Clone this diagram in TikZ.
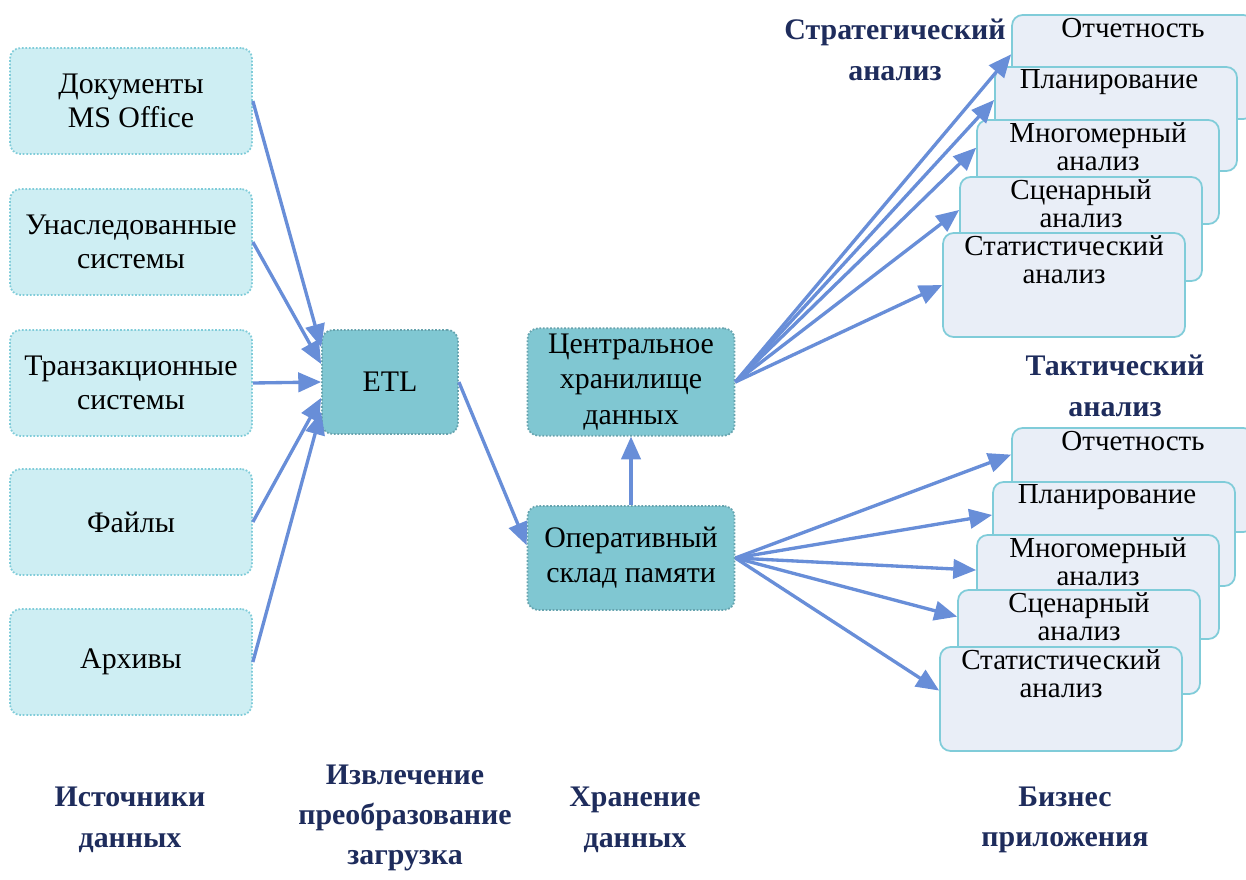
\documentclass[tikz,border=0pt]{standalone}
\usepackage{fontspec}
\setmainfont{Liberation Serif}
\usepackage{xcolor}
\usetikzlibrary{arrows.meta,calc}

\definecolor{strelka}{RGB}{104,142,216}
\definecolor{istok}{RGB}{206,238,243}
\definecolor{ramka}{RGB}{128,204,217}
\definecolor{yadro}{RGB}{128,199,210}
\definecolor{prilozh}{RGB}{233,238,247}
\definecolor{podpis}{RGB}{30,44,92}

\tikzset{
  istochnik/.style={draw=ramka, densely dotted, line width=1pt, fill=istok, rounded corners=6pt,
    minimum width=4.84cm, minimum height=2.12cm, align=center, font=\fontsize{17}{19}\selectfont},
  yadrobox/.style={draw=ramka!80!black, densely dotted, line width=1pt, fill=yadro, rounded corners=6pt,
    minimum height=2.08cm, align=center, font=\fontsize{17}{20}\selectfont},
  prilbox/.style={draw=ramka, line width=1pt, fill=prilozh, rounded corners=6pt,
    minimum width=4.84cm, minimum height=2.08cm},
  priltext/.style={anchor=north, align=center, inner sep=1pt, font=\fontsize{16.5}{15.5}\selectfont},
  zagolovok/.style={align=center, text=podpis, font=\bfseries\fontsize{17}{23}\selectfont},
  svyaz/.style={draw=strelka, line width=1.9pt, -{Triangle[length=13pt, width=11pt]}}
}

\begin{document}
\begin{tikzpicture}[x=0.02cm, y=-0.02cm]
    \useasboundingbox (0,0) rectangle (1246,879);

    % Источники данных
    \node[istochnik] (doc) at (131,101) {Документы\\MS Office};
    \node[istochnik] (nasl) at (131,242) {Унаследованные\\системы};
    \node[istochnik] (tranz) at (131,383) {Транзакционные\\системы};
    \node[istochnik] (fajl) at (131,522) {Файлы};
    \node[istochnik] (arh) at (131,662) {Архивы};

    % ETL и хранилища
    \node[yadrobox, minimum width=2.72cm] (etl) at (390,382) {ETL};
    \node[yadrobox, minimum width=4.14cm] (centr) at (631,382) {Центральное\\хранилище\\данных};
    \node[yadrobox, minimum width=4.14cm] (oper) at (631,558) {Оперативный\\склад памяти};

    % Стратегический анализ
    \node[prilbox] (s1) at (1133,67) {};
    \node[priltext] (s1t) at ([yshift=-1pt]s1.north) {Отчетность};
    \node[prilbox] (s2) at (1116,119) {};
    \node[priltext] (s2t) at ([xshift=-4pt, yshift=-1pt]s2.north) {Планирование};
    \node[prilbox] (s3) at (1098,172) {};
    \node[priltext] (s3t) at ([yshift=-1pt]s3.north) {Многомерный\\анализ};
    \node[prilbox] (s4) at (1081,229) {};
    \node[priltext] (s4t) at ([yshift=-1pt]s4.north) {Сценарный\\анализ};
    \node[prilbox] (s5) at (1064,285) {};
    \node[priltext] (s5t) at ([yshift=-1pt]s5.north) {Статистический\\анализ};

    % Тактический анализ
    \node[prilbox] (t1) at (1133,480) {};
    \node[priltext] (t1t) at ([yshift=-1pt]t1.north) {Отчетность};
    \node[prilbox] (t2) at (1114,534) {};
    \node[priltext] (t2t) at ([xshift=-4pt, yshift=-1pt]t2.north) {Планирование};
    \node[prilbox] (t3) at (1098,587) {};
    \node[priltext] (t3t) at ([yshift=-1pt]t3.north) {Многомерный\\анализ};
    \node[prilbox] (t4) at (1079,642) {};
    \node[priltext] (t4t) at ([yshift=-1pt]t4.north) {Сценарный\\анализ};
    \node[prilbox] (t5) at (1061,699) {};
    \node[priltext] (t5t) at ([yshift=-1pt]t5.north) {Статистический\\анализ};

    % Подписи
    \node[zagolovok] (strat) at (895,50) {Стратегический\\анализ};
    \node[zagolovok] (takt) at (1115,386) {Тактический\\анализ};
    \node[zagolovok] (ist) at (130,820) {Источники\\данных};
    \node[zagolovok] (izvl) at (405,818) {Извлечение\\преобразование\\загрузка};
    \node[zagolovok] (hran) at (635,820) {Хранение\\данных};
    \node[zagolovok] (biz) at (1065,820) {Бизнес\\приложения};

    % Стрелки к ETL
    \draw[svyaz] (doc.east) -- ($(etl.north west)!0.17!(etl.south west)$);
    \draw[svyaz] (nasl.east) -- ($(etl.north west)!0.33!(etl.south west)$);
    \draw[svyaz] (tranz.east) -- (etl.west);
    \draw[svyaz] (fajl.east) -- ($(etl.north west)!0.65!(etl.south west)$);
    \draw[svyaz] (arh.east) -- ($(etl.north west)!0.78!(etl.south west)$);

    % ETL -> склад -> хранилище
    \draw[svyaz] (etl.east) -- ($(oper.north west)!0.38!(oper.south west)$);
    \draw[svyaz] (oper.north) -- (centr.south);

    % Стрелки к приложениям
    \draw[svyaz] (centr.east) -- ($(s1.north west)!0.38!(s1.south west)$);
    \draw[svyaz] (centr.east) -- ($(s2.north west)!0.32!(s2.south west)$);
    \draw[svyaz] (centr.east) -- ($(s3.north west)!0.27!(s3.south west)$);
    \draw[svyaz] (centr.east) -- ($(s4.north west)!0.32!(s4.south west)$);
    \draw[svyaz] (centr.east) -- (s5.west);
    \draw[svyaz] (oper.east) -- ($(t1.north west)!0.26!(t1.south west)$);
    \draw[svyaz] (oper.east) -- ($(t2.north west)!0.32!(t2.south west)$);
    \draw[svyaz] (oper.east) -- ($(t3.north west)!0.34!(t3.south west)$);
    \draw[svyaz] (oper.east) -- ($(t4.north west)!0.26!(t4.south west)$);
    \draw[svyaz] (oper.east) -- ($(t5.north west)!0.42!(t5.south west)$);
\end{tikzpicture}
\end{document}
